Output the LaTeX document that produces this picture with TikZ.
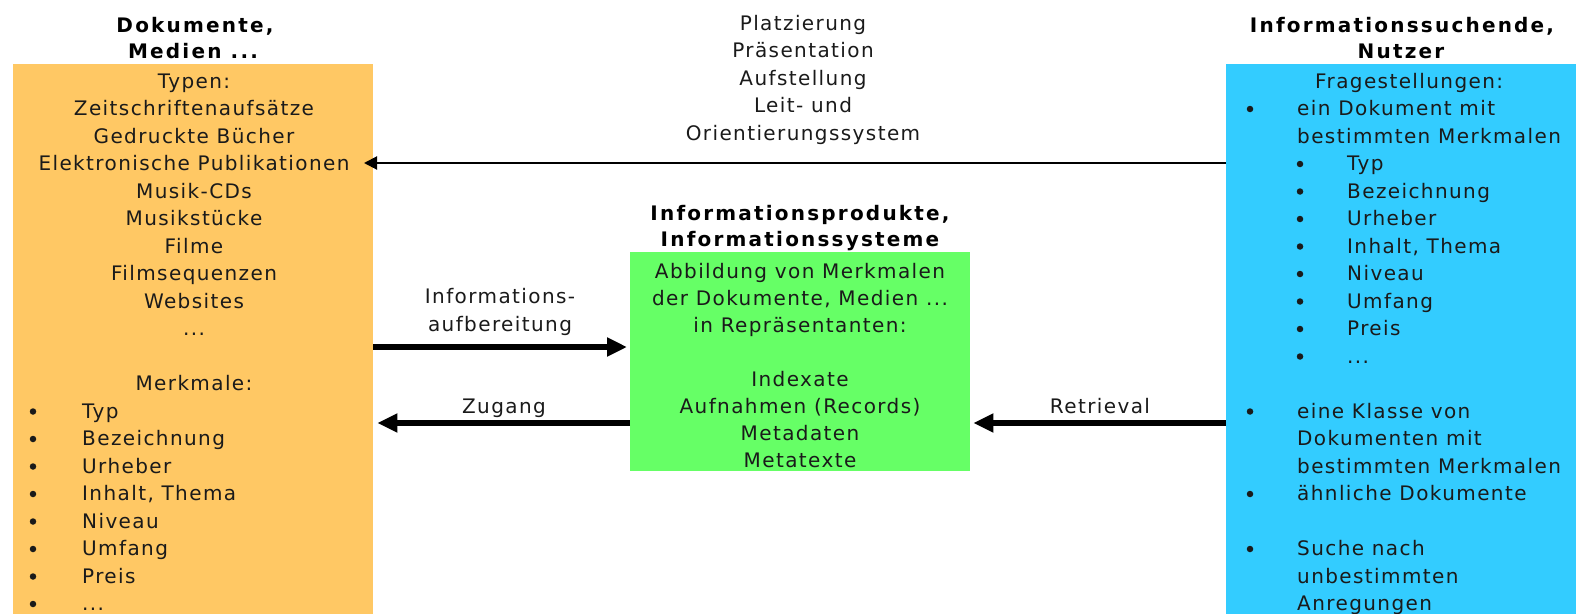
\documentclass[tikz,border=0pt]{standalone}
\usepackage{fontspec}
\setmainfont{DejaVu Sans}[LetterSpace=7]
\newfontfamily\hdfont{DejaVu Sans}[LetterSpace=11]
\usetikzlibrary{arrows.meta}
\definecolor{orangebox}{HTML}{FFC864}
\definecolor{bluebox}{HTML}{33CCFF}
\definecolor{greenbox}{HTML}{66FF66}
\definecolor{txtc}{HTML}{1A1A1A}
\newcommand{\tdots}{...}
\tikzset{
  txt/.style={font=\fontsize{20}{24}\selectfont, inner sep=0pt, text=txtc, anchor=base},
  txtl/.style={txt, anchor=base west},
  hd/.style={font=\hdfont\bfseries\fontsize{20}{24}\selectfont, inner sep=0pt, text=black, anchor=base},
  bul/.style={circle, fill=txtc, inner sep=0pt, minimum size=6.5pt},
  box/.style={inner sep=0pt, anchor=north west, draw=none},
  thinarrow/.style={draw=black, line width=2pt, -{Triangle[length=13pt,width=13pt]}},
  thickarrow/.style={draw=black, line width=6pt, -{Triangle[length=20pt,width=18pt]}},
}
\begin{document}
\begin{tikzpicture}[x=1pt,y=-1pt]
\useasboundingbox (0,0) rectangle (1576,613);
\clip (0,0) rectangle (1576,613);
% boxes
\node[box, fill=orangebox, minimum width=360pt, minimum height=560pt] (docs) at (13,64) {};
\node[box, fill=bluebox, minimum width=360pt, minimum height=560pt] (users) at (1226,64) {};
\node[box, fill=greenbox, minimum width=340pt, minimum height=219pt] (prod) at (630,252) {};
% headings
\node[hd] (hdocs1) at (195,32) {Dokumente,};
\node[hd] (hdocs2) at (193,58) {Medien \tdots};
\node[hd] (husers1) at (1402,32) {Informationssuchende,};
\node[hd] (husers2) at (1401,58) {Nutzer};
\node[hd] (hprod1) at (800,220) {Informationsprodukte,};
\node[hd] (hprod2) at (800,246) {Informationssysteme};
% orange box contents
\foreach \t [count=\i] in {Typen:, Zeitschriftenaufsätze, Gedruckte Bücher, Elektronische Publikationen, Musik-CDs, Musikstücke, Filme, Filmsequenzen, Websites, \tdots}
  \node[txt] (ot\i) at (194,{88+27.5*(\i-1)}) {\t};
\node[txt] (omerk) at (194,390.5) {Merkmale:};
\foreach \t [count=\i] in {Typ, Bezeichnung, Urheber, {Inhalt, Thema}, Niveau, Umfang, Preis, \tdots}{
  \node[bul] (ob\i) at (33,{418-6.5+27.5*(\i-1)}) {};
  \node[txtl] (om\i) at (82,{418+27.5*(\i-1)}) {\t};
}
% blue box contents
\node[txtl] (ufrag) at (1315,88) {Fragestellungen:};
\node[bul] (ub1) at (1250,109) {};
\node[txtl] (uq1a) at (1297,115.5) {ein Dokument mit};
\node[txtl] (uq1b) at (1297,143) {bestimmten Merkmalen};
\foreach \t [count=\i] in {Typ, Bezeichnung, Urheber, {Inhalt, Thema}, Niveau, Umfang, Preis, \tdots}{
  \node[bul] (usb\i) at (1300,{170.5-6.5+27.5*(\i-1)}) {};
  \node[txtl] (us\i) at (1347,{170.5+27.5*(\i-1)}) {\t};
}
\node[bul] (ub2) at (1250,411.5) {};
\node[txtl] (uq2a) at (1297,418) {eine Klasse von};
\node[txtl] (uq2b) at (1297,445.5) {Dokumenten mit};
\node[txtl] (uq2c) at (1297,473) {bestimmten Merkmalen};
\node[bul] (ub3) at (1250,494) {};
\node[txtl] (uq3) at (1297,500.5) {ähnliche Dokumente};
\node[bul] (ub4) at (1250,549) {};
\node[txtl] (uq4a) at (1297,555.5) {Suche nach};
\node[txtl] (uq4b) at (1297,583) {unbestimmten};
\node[txtl] (uq4c) at (1297,610.5) {Anregungen};
% green box contents
\node[txt] (pt1) at (800,278) {Abbildung von Merkmalen};
\node[txt] (pt2) at (800,305) {der Dokumente, Medien \tdots};
\node[txt] (pt3) at (800,332) {in Repräsentanten:};
\node[txt] (pt5) at (800,386) {Indexate};
\node[txt] (pt6) at (800,413) {Aufnahmen (Records)};
\node[txt] (pt7) at (800,440) {Metadaten};
\node[txt] (pt8) at (800,467) {Metatexte};
% top middle text
\foreach \t [count=\i] in {Platzierung, Präsentation, Aufstellung, Leit- und, Orientierungssystem}
  \node[txt] (tt\i) at (803,{30+27.5*(\i-1)}) {\t};
% arrow labels
\node[txt] (lab1a) at (500,303) {Informations-};
\node[txt] (lab1b) at (500,331) {aufbereitung};
\node[txt] (lab2) at (504,413) {Zugang};
\node[txt] (lab3) at (1100,413) {Retrieval};
% connectors
\coordinate (topTip) at (364,163);
\coordinate (r1) at (0,347);
\coordinate (r2) at (0,423);
\draw[thinarrow] (users.west |- topTip) -- (topTip);
\draw[thickarrow, shorten >=3pt] (docs.east |- r1) -- (prod.west |- r1);
\draw[thickarrow, shorten >=4pt] (prod.west |- r2) -- (docs.east |- r2);
\draw[thickarrow, shorten >=3pt] (users.west |- r2) -- (prod.east |- r2);
\end{tikzpicture}
\end{document}
